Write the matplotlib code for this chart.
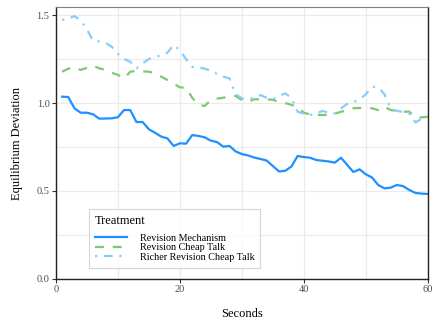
import matplotlib.pyplot as plt
import numpy as np

plt.rcParams['font.family'] = ['Liberation Serif', 'DejaVu Serif']

seconds = np.arange(1, 61)

revision_mechanism = [
    1.036, 1.034, 0.970, 0.945, 0.945, 0.936, 0.911, 0.912, 0.913, 0.919,
    0.960, 0.960, 0.892, 0.892, 0.851, 0.831, 0.809, 0.799, 0.756, 0.771,
    0.769, 0.818, 0.813, 0.805, 0.786, 0.778, 0.752, 0.756, 0.725, 0.710,
    0.702, 0.690, 0.682, 0.673, 0.642, 0.611, 0.615, 0.639, 0.699, 0.693,
    0.689, 0.676, 0.672, 0.668, 0.661, 0.689, 0.648, 0.608, 0.623, 0.595,
    0.577, 0.534, 0.515, 0.519, 0.534, 0.528, 0.506, 0.489, 0.485, 0.483]

revision_cheap_talk = [
    1.178, 1.195, 1.203, 1.188, 1.200, 1.212, 1.197, 1.188, 1.172, 1.160,
    1.140, 1.178, 1.183, 1.180, 1.178, 1.170, 1.150, 1.131, 1.110, 1.089,
    1.087, 1.030, 0.990, 0.983, 1.017, 1.025, 1.030, 1.035, 1.040, 1.017,
    1.007, 1.021, 1.021, 1.021, 1.018, 1.007, 1.000, 0.990, 0.975, 0.945,
    0.935, 0.932, 0.932, 0.932, 0.940, 0.950, 0.960, 0.970, 0.972, 0.973,
    0.970, 0.960, 0.979, 0.960, 0.955, 0.951, 0.951, 0.920, 0.918, 0.922]

richer_cheap_talk = [
    1.472, 1.480, 1.494, 1.470, 1.420, 1.354, 1.350, 1.343, 1.320, 1.280,
    1.250, 1.235, 1.197, 1.225, 1.250, 1.263, 1.270, 1.286, 1.330, 1.300,
    1.250, 1.206, 1.203, 1.195, 1.185, 1.165, 1.150, 1.140, 1.050, 1.027,
    1.020, 1.030, 1.045, 1.030, 1.021, 1.040, 1.055, 1.030, 0.950, 0.940,
    0.932, 0.940, 0.955, 0.945, 0.941, 0.970, 0.995, 1.005, 1.020, 1.050,
    1.093, 1.090, 1.050, 0.970, 0.955, 0.950, 0.941, 0.890, 0.910, 0.922]

fig = plt.figure(figsize=(4.33, 3.24), dpi=100)
ax = fig.add_axes([0.129, 0.139, 0.859, 0.839])

ax.plot(seconds, revision_mechanism, color='#1e90ff', lw=1.6,
        label='Revision Mechanism')
ax.plot(seconds, revision_cheap_talk, color='#7dc874', lw=1.6,
        dashes=(4, 4), label='Revision Cheap Talk')
ax.plot(seconds, richer_cheap_talk, color='#87cefa', lw=1.6,
        dashes=(1, 3, 4, 3), label='Richer Revision Cheap Talk')

ax.set_xlim(0, 60)
ax.set_ylim(0, 1.545)
ax.set_xticks([0, 20, 40, 60])
ax.set_xticks([10, 30, 50], minor=True)
ax.set_yticks([0, 0.5, 1.0, 1.5])
ax.set_yticklabels(['0.0', '0.5', '1.0', '1.5'])
ax.set_yticks([0.25, 0.75, 1.25], minor=True)
ax.grid(True, which='both', color='#ebebeb', lw=0.9)
ax.set_axisbelow(True)
ax.tick_params(which='major', length=3, width=0.8, color='#333333',
               labelsize=7.5, labelcolor='#4d4d4d', pad=1.5)
ax.tick_params(which='minor', length=0)

for side in ['left', 'bottom', 'right']:
    ax.spines[side].set_color('#222222')
    ax.spines[side].set_linewidth(1.0)
ax.spines['top'].set_color('#7f7f7f')
ax.spines['top'].set_linewidth(0.8)

ax.set_xlabel('Seconds', fontsize=9, labelpad=10)
ax.set_ylabel('Equilibrium Deviation', fontsize=9, labelpad=10)

leg = ax.legend(title='Treatment', loc='lower left',
                bbox_to_anchor=(0.089, 0.04), borderaxespad=0,
                fontsize=7.3, title_fontsize=9, frameon=True,
                fancybox=False, edgecolor='#cccccc', handlelength=3.2,
                labelspacing=0.05, borderpad=0.6, handletextpad=1.2)
leg._legend_box.align = 'left'
leg._legend_box.sep = 5
leg.get_frame().set_linewidth(0.8)

fig.savefig('out.png', dpi=100)
